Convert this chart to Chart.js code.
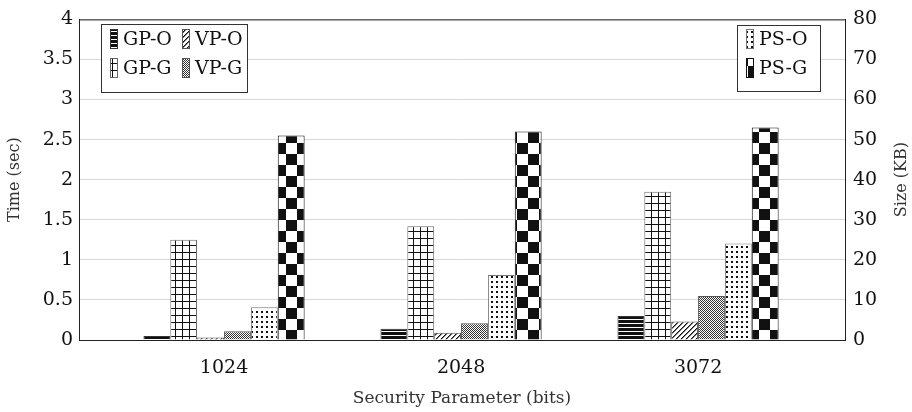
<!DOCTYPE html>
<html>
<head>
<meta charset="utf-8">
<script src="https://cdn.jsdelivr.net/npm/chart.js@4/dist/chart.umd.min.js"></script>
<style>
  html, body { margin: 0; padding: 0; background: #fff; }
  #wrap { width: 912px; height: 412px; }
</style>
</head>
<body>
<div id="wrap"><canvas id="chart" width="912" height="412"></canvas></div>
<script>
// data
const categories = ['1024', '2048', '3072'];
const seriesNames = ['GP-O', 'GP-G', 'VP-O', 'VP-G', 'PS-O', 'PS-G'];
const gpO = [0.05, 0.14, 0.30];   // sec
const gpG = [1.25, 1.42, 1.85];   // sec
const vpO = [0.03, 0.09, 0.23];   // sec
const vpG = [0.11, 0.21, 0.55];   // sec
const psO = [8.2, 16.2, 24.1];    // KB
const psG = [51, 52, 53];         // KB
const timeTicks = [0, 0.5, 1, 1.5, 2, 2.5, 3, 3.5, 4];
const sizeTicks = [0, 10, 20, 30, 40, 50, 60, 70, 80];

const serif = "'DejaVu Serif', 'Liberation Serif', serif";

// little tile patterns, like the pgfplots ones
function makePattern(size, draw) {
  const c = document.createElement('canvas');
  c.width = size; c.height = size;
  const g = c.getContext('2d');
  g.fillStyle = '#fff';
  g.fillRect(0, 0, size, size);
  g.fillStyle = '#111';
  draw(g, size);
  return document.getElementById('chart').getContext('2d').createPattern(c, 'repeat');
}

const patHLines = makePattern(4, (g) => { g.fillRect(0, 0, 4, 3); });
const patGrid = makePattern(7, (g) => { g.fillRect(0, 0, 7, 1); g.fillRect(0, 0, 1, 7); });
const patDiag = makePattern(5, (g) => {
  for (let i = 0; i < 5; i++) g.fillRect(i, 4 - i, 1, 1);
  g.fillStyle = '#777';
  for (let i = 0; i < 5; i++) g.fillRect((i + 1) % 5, 4 - i, 1, 1);
});
const patCross = makePattern(2, (g) => { g.fillStyle = '#333'; g.fillRect(0, 0, 1, 1); g.fillRect(1, 1, 1, 1); });
const patDots = makePattern(5, (g) => { g.fillRect(1, 1, 2, 2); });
const patChecker = makePattern(22, (g) => { g.fillRect(0, 0, 11, 11); g.fillRect(11, 11, 11, 11); });

const fills = [patHLines, patGrid, patDiag, patCross, patDots, patChecker];
const borders = ['#333', '#666', '#555', '#555', '#777', '#111'];
const values = [gpO, gpG, vpO, vpG, psO, psG];
const axes = ['y', 'y', 'y', 'y', 'y1', 'y1'];

const datasets = seriesNames.map((name, k) => ({
  label: name,
  data: values[k].map((v, i) => ({ x: i, y: v })),
  yAxisID: axes[k],
  backgroundColor: fills[k],
  borderColor: borders[k],
  borderWidth: 1,
  categoryPercentage: 0.68,
  barPercentage: 1.0
}));

// box round the plot, right axis title and the two legend boxes
const framePlugin = {
  id: 'frame',
  afterDraw(chart) {
    const ctx = chart.ctx;
    const a = chart.chartArea;
    ctx.save();
    ctx.strokeStyle = '#222';
    ctx.lineWidth = 1;
    ctx.strokeRect(a.left + 0.5, a.top + 0.5, a.right - a.left, a.bottom - a.top);

    // right title reads bottom to top, as on the left
    ctx.save();
    ctx.translate(902, (a.top + a.bottom) / 2);
    ctx.rotate(-Math.PI / 2);
    ctx.font = '16px ' + serif;
    ctx.fillStyle = '#333';
    ctx.textAlign = 'center';
    ctx.textBaseline = 'middle';
    ctx.fillText('Size (KB)', 0, 0);
    ctx.restore();

    function legendBox(x, y, w, h, items) {
      ctx.fillStyle = '#fff';
      ctx.fillRect(x, y, w, h);
      ctx.strokeStyle = '#333';
      ctx.strokeRect(x + 0.5, y + 0.5, w, h);
      ctx.font = '19px ' + serif;
      ctx.textBaseline = 'middle';
      ctx.textAlign = 'left';
      items.forEach((it) => {
        ctx.fillStyle = fills[it.k];
        ctx.fillRect(it.x, it.y, 7, 19);
        ctx.strokeStyle = borders[it.k];
        ctx.strokeRect(it.x + 0.5, it.y + 0.5, 7, 19);
        ctx.fillStyle = '#111';
        ctx.fillText(seriesNames[it.k], it.x + 13, it.y + 11);
      });
    }
    legendBox(101, 24, 146, 68, [
      { k: 0, x: 110, y: 29 }, { k: 2, x: 182, y: 29 },
      { k: 1, x: 110, y: 58 }, { k: 3, x: 182, y: 58 }
    ]);
    legendBox(737, 25, 83, 66, [
      { k: 4, x: 746, y: 29 }, { k: 5, x: 746, y: 58 }
    ]);
    ctx.restore();
  }
};

new Chart(document.getElementById('chart'), {
  type: 'bar',
  data: { datasets: datasets },
  options: {
    responsive: false,
    animation: false,
    layout: { padding: { top: 15, right: 0, left: 0, bottom: 0 } },
    plugins: { legend: { display: false }, tooltip: { enabled: false } },
    scales: {
      x: {
        type: 'linear',
        offset: false,
        min: -0.612,
        max: 2.62,
        grid: { display: false },
        border: { color: '#222' },
        afterBuildTicks: (s) => { s.ticks = categories.map((c, i) => ({ value: i })); },
        afterFit: (s) => { s.height = 72; },
        ticks: {
          callback: (v) => categories[v],
          font: { family: serif, size: 19 },
          color: '#111',
          padding: 9,
          maxRotation: 0
        },
        title: {
          display: true,
          text: 'Security Parameter (bits)',
          font: { family: serif, size: 17 },
          color: '#333',
          padding: { top: 4, bottom: 3 }
        }
      },
      y: {
        position: 'left',
        min: 0,
        max: 4,
        afterBuildTicks: (s) => { s.ticks = timeTicks.map((v) => ({ value: v })); },
        afterFit: (s) => { s.width = 79; },
        grid: { color: '#d8d8d8', tickLength: 0 },
        border: { color: '#222' },
        ticks: {
          callback: (v) => String(v),
          font: { family: serif, size: 19 },
          color: '#111',
          padding: 6
        },
        title: {
          display: true,
          text: 'Time (sec)',
          font: { family: serif, size: 16 },
          color: '#333',
          padding: { top: 5, bottom: 0 }
        }
      },
      y1: {
        position: 'right',
        min: 0,
        max: 80,
        afterBuildTicks: (s) => { s.ticks = sizeTicks.map((v) => ({ value: v })); },
        afterFit: (s) => { s.width = 67; },
        grid: { drawOnChartArea: false, tickLength: 0 },
        border: { color: '#222' },
        ticks: {
          callback: (v) => String(v),
          font: { family: serif, size: 19 },
          color: '#111',
          padding: 8
        }
      }
    }
  },
  plugins: [framePlugin]
});
</script>
</body>
</html>
